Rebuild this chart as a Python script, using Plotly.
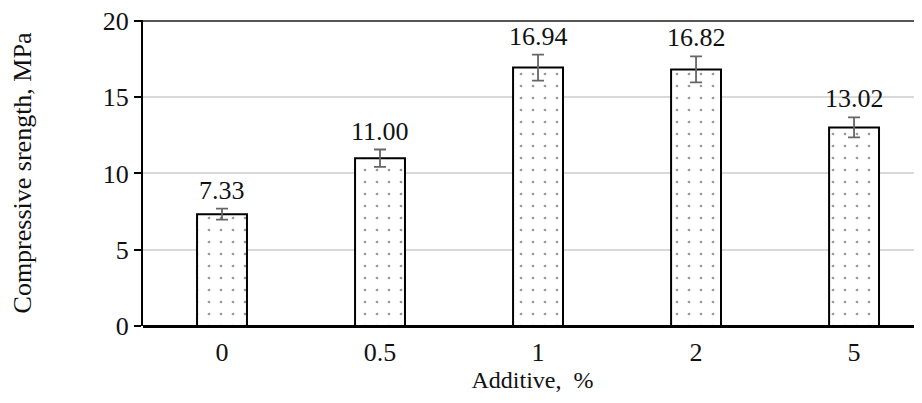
import plotly.graph_objects as go

categories = ["0", "0.5", "1", "2", "5"]
strength = [7.33, 11.00, 16.94, 16.82, 13.02]
errors = [0.36, 0.57, 0.85, 0.85, 0.65]
y_ticks = [0, 5, 10, 15, 20]

x = list(range(len(categories)))
font_family = "Liberation Serif"

fig = go.Figure()
fig.add_trace(go.Bar(
    x=x, y=strength, width=0.316,
    marker=dict(color="white", line=dict(color="black", width=2),
                pattern=dict(shape=".", fgcolor="#333333", bgcolor="white", size=12, solidity=0.04)),
    error_y=dict(type="data", array=errors, visible=True, color="#666666", thickness=1.8, width=6),
    hoverinfo="skip",
))

for xi, v, e in zip(x, strength, errors):
    fig.add_annotation(x=xi, y=v + e, text=f"{v:.2f}", showarrow=False, yanchor="bottom",
                       yshift=2, font=dict(family=font_family, size=26, color="#111111"))

fig.add_shape(type="line", xref="paper", yref="y", x0=0, x1=1, y0=20, y1=20,
              line=dict(color="#555555", width=2))

fig.update_layout(
    width=914, height=395,
    margin=dict(l=135, r=0, t=12, b=77),
    paper_bgcolor="white", plot_bgcolor="white",
    showlegend=False,
    font=dict(family=font_family, size=26, color="#111111"),
    xaxis=dict(range=[-0.5, 4.43], tickmode="array", tickvals=x, ticktext=categories,
               showgrid=False, showline=False, zeroline=False, automargin=False,
               ticks="outside", ticklen=3, tickcolor="rgba(0,0,0,0)",
               title=dict(text="Additive,  %", standoff=0, font=dict(size=24))),
    yaxis=dict(range=[0, 20.06], tickmode="array", tickvals=y_ticks, automargin=False,
               ticklabeloverflow="allow",
               showgrid=True, gridcolor="#d9d9d9", gridwidth=1.5,
               showline=True, linecolor="black", linewidth=2,
               ticks="outside", ticklen=7, tickcolor="black", tickwidth=2,
               zeroline=True, zerolinecolor="black", zerolinewidth=2.5,
               title=dict(text="Compressive srength, MPa", standoff=66, font=dict(size=26))),
)

fig.write_html("out.html")
